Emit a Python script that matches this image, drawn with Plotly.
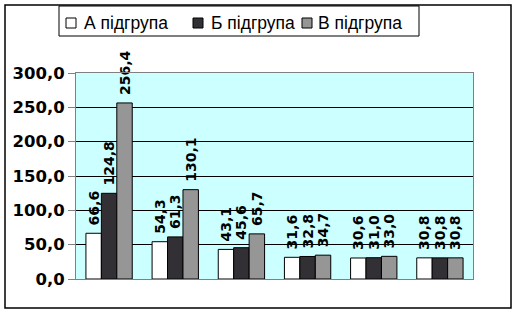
import plotly.graph_objects as go

groups = ["1", "2", "3", "4", "5", "6"]
series_names = ["А підгрупа", "Б підгрупа", "В підгрупа"]
values_a = [66.6, 54.3, 43.1, 31.6, 30.6, 30.8]
values_b = [124.8, 61.3, 45.6, 32.8, 31.0, 30.8]
values_c = [256.4, 130.1, 65.7, 34.7, 33.0, 30.8]
colors = ["#FFFFFF", "#333035", "#969696"]
y_ticks = [0, 50, 100, 150, 200, 250, 300]

W, H = 518, 314
L, R, T, B = 76, 45, 73, 35
pw, ph = W - L - R, H - T - B

fig = go.Figure()
for name, vals, col in zip(series_names, [values_a, values_b, values_c], colors):
    fig.add_trace(go.Bar(
        x=groups, y=vals, name=name, showlegend=False,
        marker=dict(color=col, line=dict(color="black", width=1)),
        texttemplate="\u00a0%{y:.1f}", textposition="outside", textangle=-90,
        textfont=dict(family="DejaVu Sans", size=14, color="black", weight="bold"),
        constraintext="none", cliponaxis=False,
    ))

def px_x(p):
    return (p - L) / pw

def px_y(p):
    return (H - B - p) / ph

shapes = [
    dict(type="rect", xref="paper", yref="paper",
         x0=px_x(5), x1=px_x(511), y0=px_y(308), y1=px_y(5),
         line=dict(color="black", width=1.5), layer="below"),
    dict(type="rect", xref="paper", yref="paper",
         x0=px_x(59), x1=px_x(419), y0=px_y(36), y1=px_y(6),
         line=dict(color="black", width=1), fillcolor="white", layer="above"),
]
annotations = []
marker_x = [66, 193, 302]
text_x = [82, 209, 316]
for name, col, mx, tx in zip(series_names, colors, marker_x, text_x):
    shapes.append(dict(type="rect", xref="paper", yref="paper",
                       x0=px_x(mx), x1=px_x(mx + 10), y0=px_y(28), y1=px_y(18),
                       line=dict(color="black", width=1), fillcolor=col, layer="above"))
    annotations.append(dict(xref="paper", yref="paper", x=px_x(tx), y=px_y(22.5),
                            xanchor="left", yanchor="middle", showarrow=False,
                            text=name,
                            font=dict(family="Liberation Sans", size=17.5, color="black")))

fig.update_layout(
    width=W, height=H,
    margin=dict(l=L, r=R, t=T, b=B),
    paper_bgcolor="white", plot_bgcolor="#CCFFFF",
    barmode="group", bargap=0.3, bargroupgap=0,
    separators=", ",
    showlegend=False,
    xaxis=dict(showticklabels=False, ticks="", showgrid=False, zeroline=False,
               showline=True, linecolor="#808080", linewidth=1, mirror=True),
    yaxis=dict(range=[0, 300], tickvals=y_ticks, tickformat=".1f",
               showgrid=True, gridcolor="black", gridwidth=1, zeroline=False,
               showline=True, linecolor="#808080", linewidth=1, mirror=True,
               ticks="outside", ticklen=7, tickcolor="#808080",
               tickfont=dict(family="DejaVu Sans", size=16.5, color="black", weight="bold")),
    shapes=shapes,
    annotations=annotations,
)

fig.write_html("out.html")
